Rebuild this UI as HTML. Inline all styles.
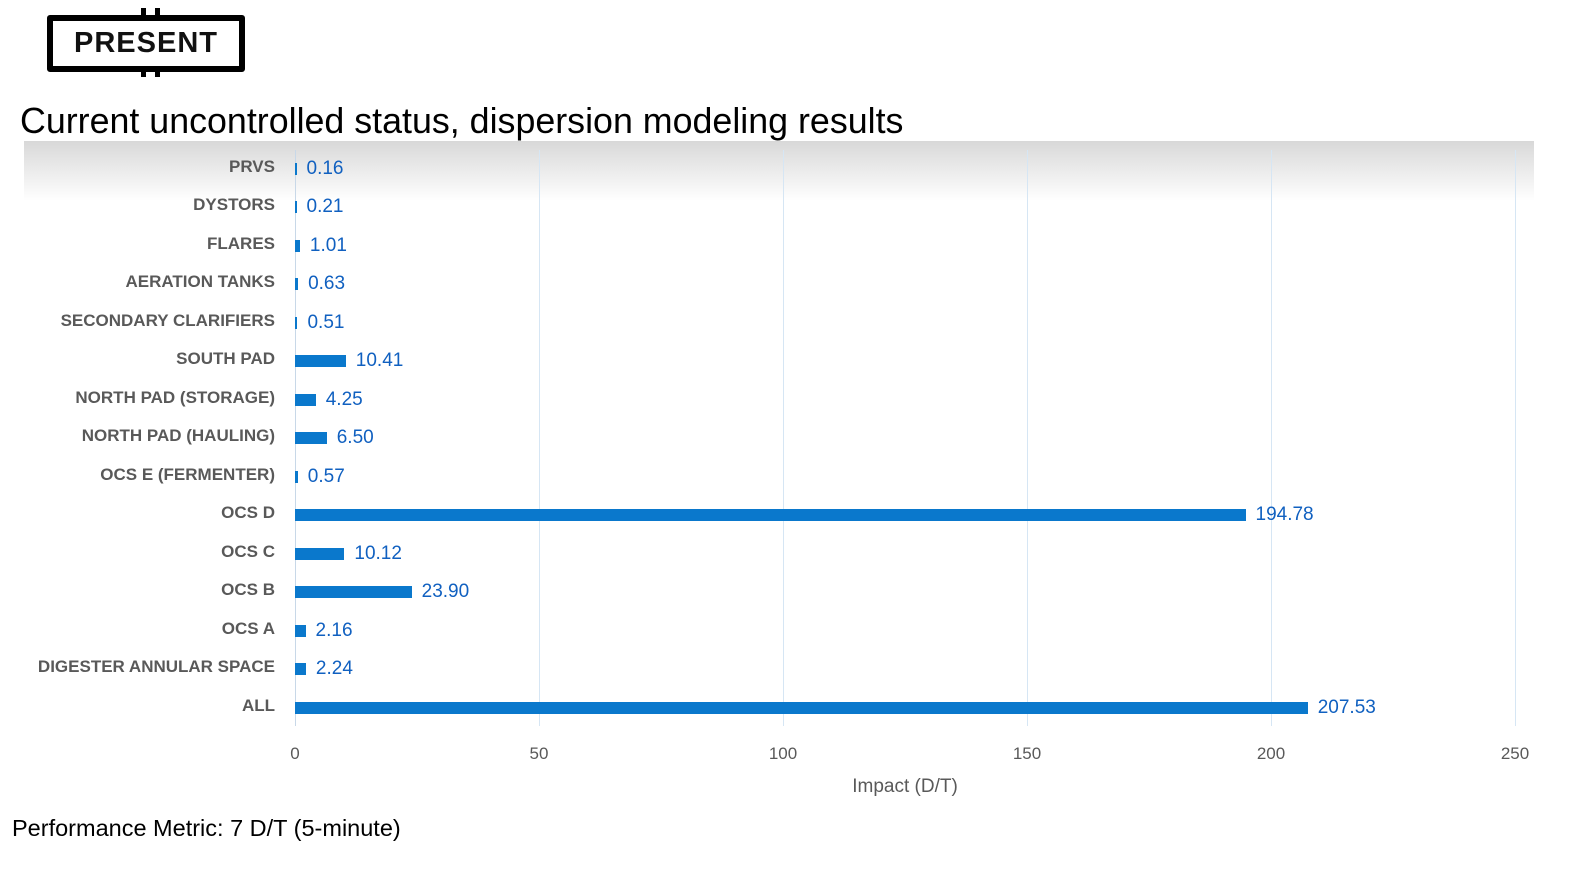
<!DOCTYPE html>
<html><head><meta charset="utf-8"><style>
body{margin:0;width:1570px;height:871px;background:#fff;position:relative;overflow:hidden;font-family:"Liberation Sans",sans-serif}
.abs{position:absolute}
.lab{position:absolute;right:1295px;font-size:17px;font-weight:bold;color:#595959;white-space:nowrap;line-height:20px}
.bar{position:absolute;left:295px;height:12px;background:#0A78CC}
.val{position:absolute;font-size:19px;color:#1060C0;line-height:20px}
.grid{position:absolute;top:150px;height:576px;width:1px;background:#D6E6F4}
.tick{position:absolute;top:744px;font-size:17px;color:#595959;width:60px;margin-left:-30px;text-align:center}
</style></head><body>
<div class="abs" style="left:24px;top:141px;width:1510px;height:60px;background:linear-gradient(#d8d8d8,#fff)"></div>
<div class="abs" style="left:141px;top:8px;width:5px;height:69px;background:#000"></div>
<div class="abs" style="left:155px;top:8px;width:5px;height:69px;background:#000"></div>
<div class="abs" style="left:47px;top:15px;width:186px;height:45px;border:6px solid #000;border-radius:3px;background:#fff;text-align:center;font-weight:bold;font-size:29px;line-height:45px;letter-spacing:1px;color:#111">PRESENT</div>
<div class="abs" style="left:20px;top:101px;font-size:35.8px;color:#000;white-space:nowrap">Current uncontrolled status, dispersion modeling results</div>
<div class="abs" style="left:12px;top:815px;font-size:23.5px;color:#000;white-space:nowrap">Performance Metric: 7 D/T (5-minute)</div>
<div class="grid" style="left:295px;background:#C8D8E8"></div>
<div class="grid" style="left:539px"></div><div class="grid" style="left:783px"></div><div class="grid" style="left:1027px"></div><div class="grid" style="left:1271px"></div><div class="grid" style="left:1515px"></div>
<div class="tick" style="left:295px">0</div><div class="tick" style="left:539px">50</div><div class="tick" style="left:783px">100</div><div class="tick" style="left:1027px">150</div><div class="tick" style="left:1271px">200</div><div class="tick" style="left:1515px">250</div>
<div class="abs" style="left:805px;top:776px;width:200px;text-align:center;font-size:19px;color:#595959">Impact (D/T)</div>
<div id="c"></div>
<script>
var d=[["PRVS",0.16],["DYSTORS",0.21],["FLARES",1.01],["AERATION TANKS",0.63],["SECONDARY CLARIFIERS",0.51],["SOUTH PAD",10.41],["NORTH PAD (STORAGE)",4.25],["NORTH PAD (HAULING)",6.50],["OCS E (FERMENTER)",0.57],["OCS D",194.78],["OCS C",10.12],["OCS B",23.90],["OCS A",2.16],["DIGESTER ANNULAR SPACE",2.24],["ALL",207.53]];
var h="";d.forEach(function(r,i){var y=168.5+i*38.5;var w=Math.max(r[1]*4.88,1.5);
h+='<div class="lab" style="top:'+(y-12)+'px">'+r[0]+'</div><div class="bar" style="top:'+(y-6)+'px;width:'+w+'px"></div><div class="val" style="top:'+(y-10)+'px;left:'+(295+w+10)+'px">'+r[1].toFixed(2)+'</div>';});
document.getElementById("c").innerHTML=h;
</script>
</body></html>
